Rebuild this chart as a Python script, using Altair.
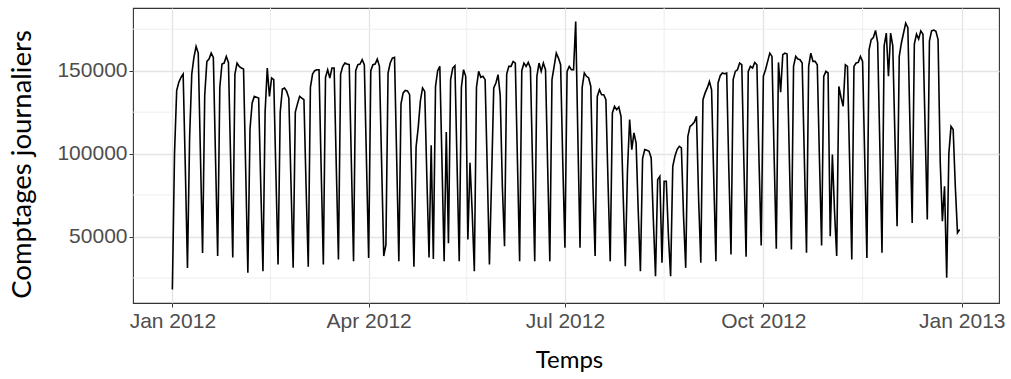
import altair as alt
import pandas as pd

# Daily counts, 2012 (one list per month)
jan = [18000, 100000, 138000, 143000, 146000, 148000, 92000, 31000,
       110000, 148000, 158000, 164600, 160600, 100000, 40000,
       135000, 155600, 157000, 160600, 158000, 98000, 38300,
       140000, 154000, 154600, 158600, 155000, 97000, 37300,
       148000, 154600]
feb = [152600, 151600, 151000, 90000, 28100,
       115000, 130500, 134500, 134000, 133500, 80000, 29100,
       125000, 151600, 134500, 145600, 144600, 88000, 33100,
       125000, 139000, 139600, 137500, 133500, 82000, 31100,
       125000, 130000, 134500]
mar = [133500, 132500, 80000, 31700,
       140000, 148000, 150000, 150600, 150600, 90000, 33100,
       146000, 150600, 145600, 151600, 151600, 92000, 36100,
       148000, 152600, 154600, 154000, 153600, 94000, 35100,
       150000, 153600, 154000, 156600, 153600, 95000]
apr = [37100,
       150000, 153600, 154000, 157000, 152600, 95000, 38200,
       45000, 148600, 154600, 157600, 158000, 97000, 35100,
       130000, 136600, 138100, 137800, 135500, 85000, 31700,
       104000, 116000, 132000, 139600, 137500, 85000, 37300,
       105000]
may = [36500, 140500, 150000, 152600, 95000, 35100,
       113000, 46000, 144600, 151600, 153000, 93000, 35100,
       140000, 150600, 146600, 48200, 94500, 65000, 29100,
       140000, 149600, 146000, 146600, 144600, 90000, 33100,
       85000, 139600, 142600, 147600]
jun = [135000, 80000, 44200,
       148000, 152600, 152600, 155600, 154600, 95000, 35100,
       150000, 154600, 152600, 155000, 151600, 93000, 35100,
       146600, 154600, 149600, 154600, 150600, 92000, 35100,
       144600, 152600, 160600, 157600, 153600, 95000]
jul = [43200,
       149600, 152600, 150600, 150600, 179700, 110000, 43200,
       140000, 148600, 146600, 145600, 140500, 80000, 38200,
       134500, 138500, 135500, 135500, 132500, 82000, 35100,
       124500, 128500, 126500, 128100, 122500, 75000, 32100,
       90000, 120500]
aug = [102400, 112500, 106400, 65000, 29100,
       97000, 102400, 102000, 101400, 97400, 60000, 26100,
       84300, 86300, 34200, 83300, 83300, 50000, 26100,
       92300, 98400, 102400, 104400, 103400, 62000, 31100,
       110400, 116400, 117500, 119000, 122500]
sep = [72000, 34200,
       132500, 136600, 139600, 143500, 138500, 85000, 35100,
       142600, 147000, 148600, 148200, 148600, 90000, 39200,
       144600, 149600, 150600, 154600, 153600, 93000, 37800,
       149600, 152600, 151600, 155000, 153600, 95000, 44600]
octo = [146600, 150600, 155600, 160600, 158600, 98000, 42600,
        155000, 137000, 159600, 160600, 160000, 100000, 42200,
        152600, 158600, 157000, 156600, 154600, 97000, 40200,
        152600, 160600, 155600, 155600, 153600, 97000, 44600,
        146600, 149600, 148600]
nov = [50200, 99400, 65000, 38200,
       140500, 134000, 128500, 153600, 152600, 95000, 36100,
       152600, 154600, 155000, 158600, 155600, 97000, 37100,
       162600, 168700, 170000, 174300, 167000, 105000, 40200,
       165000, 172700, 146600, 172700, 165000]
dec = [110000, 56200,
       158600, 166700, 172700, 178700, 176000, 115000, 58200,
       166000, 172000, 169000, 174000, 172000, 115000, 60200,
       168000, 174000, 174500, 173700, 168700, 95000, 59200,
       80300, 25100, 100000, 116400, 114500, 80000, 52200,
       54200]

y_major = [50000, 100000, 150000]
y_minor = [25000, 75000, 125000, 175000]
x_minor = ["2012-02-15T12:00:00Z", "2012-05-16T12:00:00Z",
           "2012-08-16T00:00:00Z", "2012-11-16T00:00:00Z"]

values = jan + feb + mar + apr + may + jun + jul + aug + sep + octo + nov + dec
dates = pd.date_range("2012-01-01", "2012-12-31", freq="D").strftime("%Y-%m-%d").tolist()
df = pd.DataFrame({"date": dates, "value": values})

x_scale = alt.Scale(
    type="utc",
    domain=[alt.DateTime(year=2011, month=12, date=13, hours=18, utc=True),
            alt.DateTime(year=2013, month=1, date=18, hours=6, utc=True)],
)
y_scale = alt.Scale(domain=[9900, 187800], nice=False, zero=False)

x_ticks = [alt.DateTime(year=2012, month=1, date=1, utc=True),
           alt.DateTime(year=2012, month=4, date=1, utc=True),
           alt.DateTime(year=2012, month=7, date=1, utc=True),
           alt.DateTime(year=2012, month=10, date=1, utc=True),
           alt.DateTime(year=2013, month=1, date=1, utc=True)]

minor_y = alt.Chart(pd.DataFrame({"v": y_minor})).mark_rule(
    color="#ECECEC", strokeWidth=0.9
).encode(y=alt.Y("v:Q", scale=y_scale))

minor_x = alt.Chart(pd.DataFrame({"d": x_minor})).mark_rule(
    color="#ECECEC", strokeWidth=0.9
).encode(x=alt.X("d:T", scale=x_scale))

line = alt.Chart(df).mark_line(color="black", strokeWidth=1.6).encode(
    x=alt.X("date:T", scale=x_scale,
            axis=alt.Axis(values=x_ticks, format="%b %Y", title="Temps",
                          titleX=436, titleY=64, titleAlign="center",
                          titleBaseline="alphabetic", labelPadding=3)),
    y=alt.Y("value:Q", scale=y_scale,
            axis=alt.Axis(values=y_major, format="d", title="Comptages journaliers",
                          titleAngle=270, titleX=-103, titleY=156,
                          titleFontSize=27.5,
                          titleAlign="center", titleBaseline="alphabetic",
                          labelPadding=2)),
)

chart = alt.layer(minor_y, minor_x, line).properties(
    width=866, height=295,
    autosize=alt.AutoSizeParams(type="none"),
    padding={"left": 133, "top": 8, "right": 12, "bottom": 76},
    background="white",
).configure_view(
    stroke="#333333", strokeWidth=1.1
).configure_axis(
    grid=True, gridColor="#E4E4E4", gridWidth=1.3, domain=False,
    tickColor="#333333", tickSize=4, tickWidth=1,
    labelColor="#4D4D4D", labelFont="Liberation Sans", labelFontSize=21,
    titleFont="Lato", titleFontSize=24, titleColor="black", titleFontWeight="normal",
)

chart.save("out.html", embed_options={"renderer": "svg", "actions": False})
